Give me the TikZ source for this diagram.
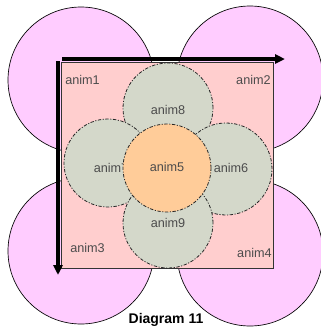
\documentclass[tikz,border=0pt]{standalone}
\usepackage{fontspec}
\setmainfont{Liberation Sans}
\usetikzlibrary{arrows.meta}

\definecolor{animpink}{RGB}{255,204,255}
\definecolor{animsquare}{RGB}{255,206,206}
\definecolor{animgrey}{RGB}{212,216,202}
\definecolor{animorange}{RGB}{255,204,153}

\tikzset{
	outer/.style={circle, draw=black, line width=0.5pt, fill=animpink, minimum size=109.5pt, inner sep=0pt},
	petal/.style={circle, draw=black!85, fill=animgrey, line width=0.6pt, dash pattern=on 2.5pt off 1.2pt on 0.8pt off 1.2pt, inner sep=0pt},
	lbl/.style={font=\fontsize{9.5}{11}\selectfont, text=black!70, inner sep=0.75pt},
	axis/.style={line width=2.3pt, -{Triangle[length=7.5pt,width=6.75pt]}}
}

\begin{document}
\begin{tikzpicture}[x=0.75pt,y=0.75pt,yscale=-1,xscale=1]
		\useasboundingbox (0,0) rectangle (321,333);
		
		%Shape: Circle (corners)
		\node [outer] (out1) at (81,80) {};
		\node [outer] (out2) at (250,79) {};
		\node [outer] (out3) at (81,251) {};
		\node [outer] (out4) at (250,253) {};
		%Shape: Square
		\node [draw=black!80, line width=0.6pt, fill=animsquare, minimum width=159pt, minimum height=154.5pt, inner sep=0pt] (field) at (167,165) {};
		
		%Straight Lines (axes)
		\coordinate (xfrom) at (62,59);
		\coordinate (xto) at (285,59);
		\coordinate (yfrom) at (58,61);
		\coordinate (yto) at (58,275);
		\draw [axis] (xfrom) -- (xto);
		\draw [axis] (yfrom) -- (yto);
		
		% Text Node
		\node [lbl, anchor=west] (lab1) at (64,80) {anim1};
		\node [lbl, anchor=east] (lab2) at (272,80) {anim2};
		\node [lbl, anchor=west] (lab3) at (69,248) {anim3};
		\node [lbl, anchor=east] (lab4) at (273,253) {anim4};
		
		%Shape: Circle (petals)
		\node [petal, minimum size=67.5pt] (p8) at (168,108) {};
		\node [petal, minimum size=66pt] (p7) at (108,163) {};
		\node [petal, minimum size=69pt] (p6) at (226,169) {};
		\node [petal, minimum size=67.5pt] (p9) at (168,223) {};
		\node [lbl] (lab8) at (168,110) {anim8};
		\node [lbl] (lab7) at (111,168) {anim7};
		\node [lbl] (lab6) at (231,168) {anim6};
		\node [lbl] (lab9) at (168,223) {anim9};
		
		%Shape: Circle (centre)
		\node [petal, fill=animorange, minimum size=66pt] (p5) at (167,168) {};
		\node [lbl] (lab5) at (167,167) {anim5};
		
		% Text Node
		\node [font=\bfseries\fontsize{10.5}{12}\selectfont, inner sep=0.75pt] (title) at (166,320) {Diagram 11};
		
\end{tikzpicture}
\end{document}
